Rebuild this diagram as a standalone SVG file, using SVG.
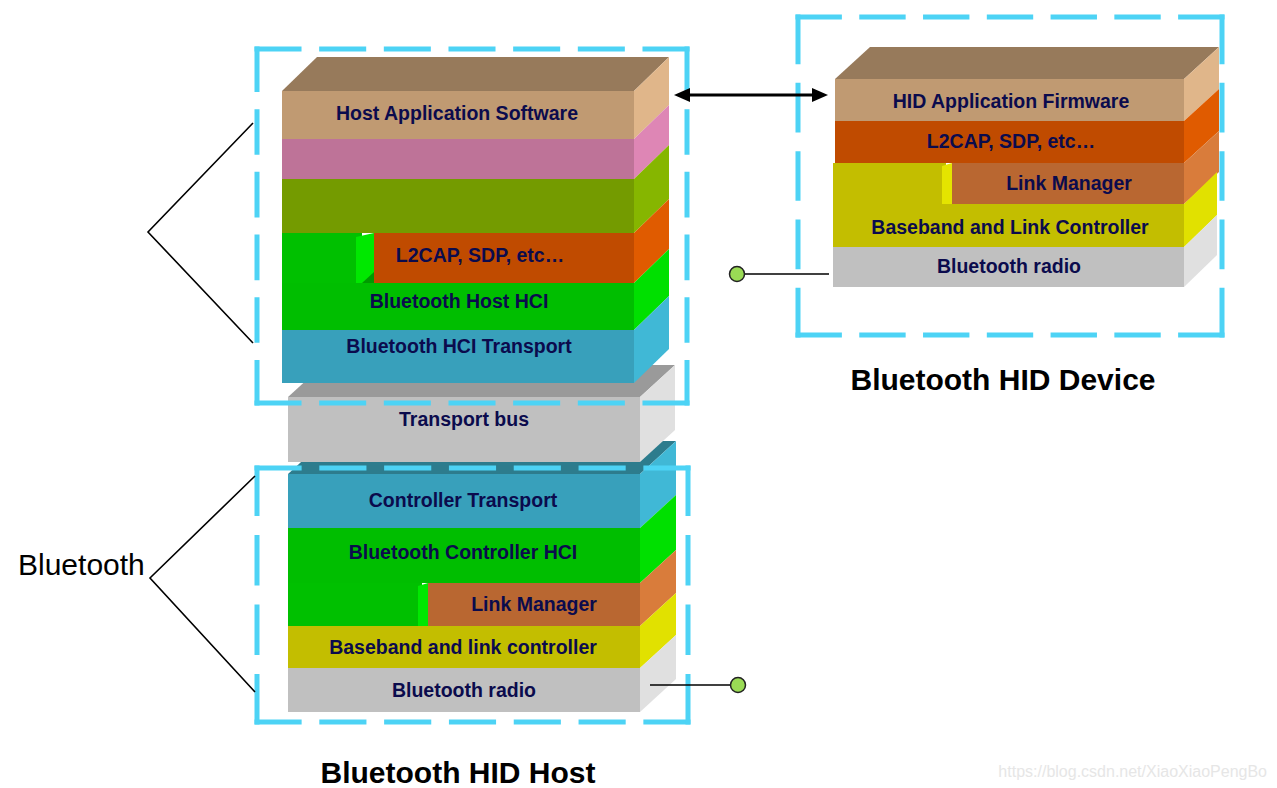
<svg xmlns="http://www.w3.org/2000/svg" width="1277" height="788" viewBox="0 0 1277 788">
<defs>
<style>
.lbl{font-family:"Liberation Sans",Arial,sans-serif;font-weight:bold;font-size:19.5px;fill:#0B0B4D;text-anchor:middle}
.title{font-family:"Liberation Sans",Arial,sans-serif;font-weight:bold;font-size:30px;fill:#000;text-anchor:middle}
.dash{fill:none;stroke:#4DD3F5;stroke-width:5;stroke-dasharray:48 18}
.ln{fill:none;stroke:#000;stroke-width:1.6}
.tanF{fill:#C09A72}.tanS{fill:#E0B68A}.tanT{fill:#977A5B}
.pinkF{fill:#BE7398}.pinkS{fill:#DE86B5}
.oliveF{fill:#749B00}.oliveS{fill:#86B600}
.grnF{fill:#00BE00}.grnS{fill:#00E000}
.orgF{fill:#C04B00}.orgS{fill:#E05B00}
.bluF{fill:#38A0BB}.bluS{fill:#40B8D6}.bluT{fill:#2D7C8D}
.lmF{fill:#B96731}.lmS{fill:#D97C3B}
.yelF{fill:#C3BE00}.yelS{fill:#E1E100}
.gryF{fill:#C0C0C0}.gryS{fill:#E0E0E0}.gryT{fill:#9A9A9A}
.bullet{fill:#9ADB55;stroke:#222;stroke-width:1.5}
</style>
<marker id="ah" viewBox="0 0 16 14" refX="6" refY="7" markerWidth="16" markerHeight="14" orient="auto-start-reverse" markerUnits="userSpaceOnUse">
<path d="M0,0 L16,7 L0,14 z" fill="#000"/>
</marker>
</defs>
<rect width="1277" height="788" fill="#fff"/>

<!-- Controller top face (behind transport bus) -->
<polygon class="bluT" points="288,474 324,441 676,441 640,474"/>

<!-- Transport bus -->
<g id="transport-bus">
<polygon class="gryT" points="288,397 323,365 675,365 640,397"/>
<rect class="gryF" x="288" y="397" width="352" height="65"/>
<polygon class="gryS" points="640,397 675,365 675,430 640,462"/>
<text class="lbl" x="464" y="426">Transport bus</text>
</g>

<!-- Host stack -->
<g id="host-stack">
<g id="host-app">
<polygon class="tanT" points="282,91 317,57 669,57 634,91"/>
<rect class="tanF" x="282" y="91" width="352" height="48"/>
<polygon class="tanS" points="634,91 669,57 669,105 634,139"/>
<text class="lbl" x="457" y="120">Host Application Software</text>
</g>
<g id="host-pink">
<rect class="pinkF" x="282" y="139" width="352" height="40"/>
<polygon class="pinkS" points="634,139 669,105 669,145 634,179"/>
</g>
<g id="host-olive">
<rect class="oliveF" x="282" y="179" width="352" height="54"/>
<polygon class="oliveS" points="634,179 669,145 669,199 634,233"/>
</g>
<g id="host-l2cap">
<rect fill="#00C000" x="282" y="233" width="80" height="50"/>
<polygon fill="#00E800" points="356,237 374,233 374,283 356,283"/>
<polygon fill="#009A00" points="362,283 374,272 374,283"/>
<rect class="orgF" x="374" y="233" width="260" height="50"/>
<polygon class="orgS" points="634,233 669,199 669,249 634,283"/>
<text class="lbl" x="480" y="262">L2CAP, SDP, etc…</text>
</g>
<g id="host-hci">
<rect class="grnF" x="282" y="283" width="352" height="47"/>
<polygon class="grnS" points="634,283 669,249 669,296 634,330"/>
<text class="lbl" x="459" y="308">Bluetooth Host HCI</text>
</g>
<g id="host-hci-transport">
<rect class="bluF" x="282" y="330" width="352" height="53"/>
<polygon class="bluS" points="634,330 669,296 669,349 634,383"/>
<text class="lbl" x="459" y="353">Bluetooth HCI Transport</text>
</g>
</g>

<!-- Controller stack -->
<g id="controller-stack">
<g id="ctrl-transport">
<rect class="bluF" x="288" y="474" width="352" height="54"/>
<polygon class="bluS" points="640,474 676,441 676,495 640,528"/>
<text class="lbl" x="463" y="507">Controller Transport</text>
</g>
<g id="ctrl-hci">
<rect class="grnF" x="288" y="528" width="352" height="55"/>
<polygon class="grnS" points="640,528 676,495 676,550 640,583"/>
<text class="lbl" x="463" y="559">Bluetooth Controller HCI</text>
</g>
<g id="ctrl-lm">
<rect fill="#00C000" x="288" y="583" width="134" height="43"/>
<polygon fill="#00E800" points="418,586 428,583 428,626 418,626"/>
<rect class="lmF" x="428" y="583" width="212" height="43"/>
<polygon class="lmS" points="640,583 676,550 676,593 640,626"/>
<text class="lbl" x="534" y="611">Link Manager</text>
</g>
<g id="ctrl-baseband">
<rect class="yelF" x="288" y="626" width="352" height="42"/>
<polygon class="yelS" points="640,626 676,593 676,635 640,668"/>
<text class="lbl" x="463" y="654">Baseband and link controller</text>
</g>
<g id="ctrl-radio">
<rect class="gryF" x="288" y="668" width="352" height="44"/>
<polygon class="gryS" points="640,668 676,635 676,679 640,712"/>
<text class="lbl" x="464" y="697">Bluetooth radio</text>
</g>
</g>

<!-- HID device stack -->
<g id="device-stack">
<g id="dev-app">
<polygon class="tanT" points="835,79 870,47 1219,47 1184,79"/>
<rect class="tanF" x="835" y="79" width="349" height="42"/>
<polygon class="tanS" points="1184,79 1219,47 1219,89 1184,121"/>
<text class="lbl" x="1011" y="108">HID Application Firmware</text>
</g>
<g id="dev-l2cap">
<rect class="orgF" x="835" y="121" width="349" height="42"/>
<polygon class="orgS" points="1184,121 1219,89 1219,131 1184,163"/>
<text class="lbl" x="1011" y="148">L2CAP, SDP, etc…</text>
</g>
<g id="dev-lm">
<rect class="yelF" x="833" y="163" width="113" height="41"/>
<polygon fill="#E4E400" points="942,166 952,163 952,204 942,204"/>
<rect class="lmF" x="952" y="163" width="232" height="41"/>
<polygon class="lmS" points="1184,163 1219,131 1219,172 1184,204"/>
<text class="lbl" x="1069" y="190">Link Manager</text>
</g>
<g id="dev-baseband">
<rect class="yelF" x="833" y="204" width="351" height="43"/>
<polygon class="yelS" points="1184,204 1217,172 1217,215 1184,247"/>
<text class="lbl" x="1010" y="234">Baseband and Link Controller</text>
</g>
<g id="dev-radio">
<rect class="gryF" x="833" y="247" width="351" height="40"/>
<polygon class="gryS" points="1184,247 1217,215 1217,255 1184,287"/>
<text class="lbl" x="1009" y="273">Bluetooth radio</text>
</g>
</g>

<!-- Dashed boundary boxes -->
<g id="boxes">
<g id="host-box">
<line class="dash" x1="254.5" y1="49" x2="689.5" y2="49" pathLength="444"/>
<line class="dash" x1="254.5" y1="403" x2="689.5" y2="403" pathLength="444"/>
<line class="dash" x1="257" y1="46.5" x2="257" y2="405.5" pathLength="378"/>
<line class="dash" x1="687" y1="46.5" x2="687" y2="405.5" pathLength="378"/>
</g>
<g id="ctrl-box">
<line class="dash" x1="254.5" y1="468" x2="690.5" y2="468" pathLength="444"/>
<line class="dash" x1="254.5" y1="722" x2="690.5" y2="722" pathLength="444"/>
<line class="dash" x1="257" y1="465.5" x2="257" y2="724.5" pathLength="246"/>
<line class="dash" x1="688" y1="465.5" x2="688" y2="724.5" pathLength="246"/>
</g>
<g id="device-box">
<line class="dash" x1="795.5" y1="17" x2="1224.5" y2="17" pathLength="444"/>
<line class="dash" x1="795.5" y1="335" x2="1224.5" y2="335" pathLength="444"/>
<line class="dash" x1="798" y1="14.5" x2="798" y2="337.5" pathLength="312"/>
<line class="dash" x1="1222" y1="14.5" x2="1222" y2="337.5" pathLength="312"/>
</g>
</g>

<!-- Connectors -->
<g id="connectors">
<line class="ln" x1="684" y1="95" x2="818" y2="95" style="stroke-width:3" marker-start="url(#ah)" marker-end="url(#ah)"/>
<polyline class="ln" points="253,123 148,232 253,343"/>
<polyline class="ln" points="255,476 150,578 255,692"/>
<line class="ln" x1="745" y1="274" x2="829" y2="274"/>
<circle class="bullet" cx="737" cy="274" r="7.5"/>
<line class="ln" x1="650" y1="685" x2="731" y2="685"/>
<circle class="bullet" cx="738" cy="685" r="7.5"/>
</g>

<!-- Labels -->
<text x="18" y="575" font-family="Liberation Sans, Arial, sans-serif" font-size="30" fill="#000">Bluetooth</text>
<text class="title" x="1003" y="390">Bluetooth HID Device</text>
<text class="title" x="458" y="783">Bluetooth HID Host</text>
<text x="1267" y="777" text-anchor="end" font-family="Liberation Sans, Arial, sans-serif" font-size="16" fill="#E6E6E6">https://blog.csdn.net/XiaoXiaoPengBo</text>
</svg>
